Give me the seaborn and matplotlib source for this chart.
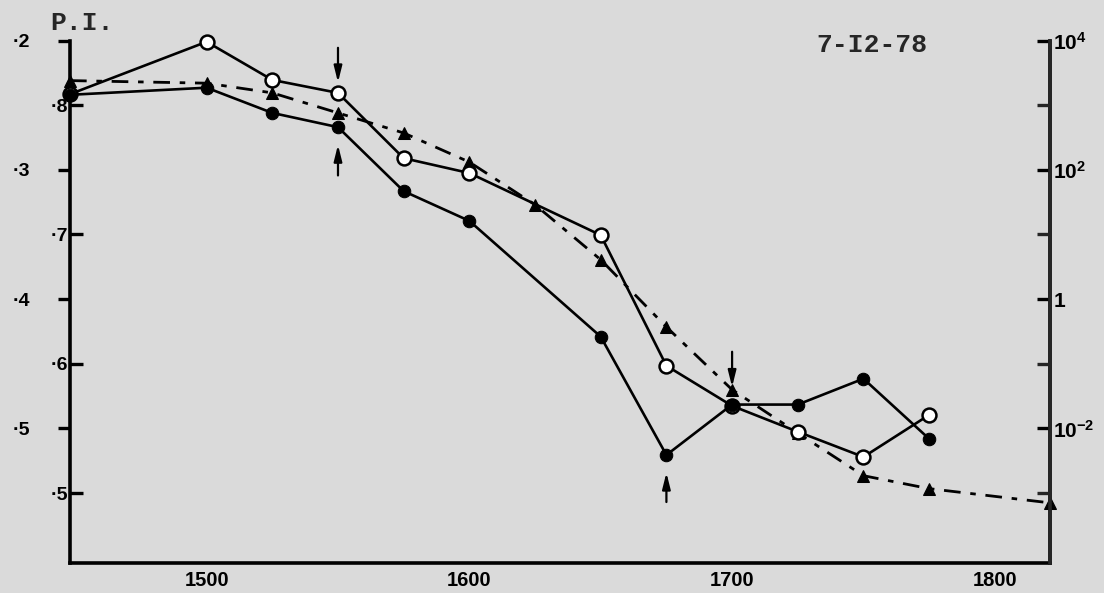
import matplotlib
matplotlib.use("Agg")
import matplotlib.pyplot as plt
import seaborn as sns
import pandas as pd

# ---- data (x = temperature-like scale, y = log10 units on the right axis) ----
open_x = [1448, 1500, 1525, 1550, 1575, 1600, 1650, 1675, 1700, 1725, 1750, 1775]
open_y = [3.17, 3.98, 3.39, 3.19, 2.18, 1.95, 0.99, -1.03, -1.65, -2.05, -2.44, -1.79]

filled_x = [1448, 1500, 1525, 1550, 1575, 1600, 1650, 1675, 1700, 1725, 1750, 1775]
filled_y = [3.16, 3.27, 2.88, 2.66, 1.67, 1.21, -0.58, -2.41, -1.63, -1.63, -1.23, -2.16]

tri_x = [1448, 1500, 1525, 1550, 1575, 1600, 1625, 1650, 1675, 1700, 1725, 1750, 1775, 1821]
tri_y = [3.38, 3.34, 3.19, 2.88, 2.57, 2.12, 1.46, 0.61, -0.43, -1.40, -2.07, -2.73, -2.93, -3.15]

x_ticks = [1500, 1600, 1700, 1800]
left_major = [4, 2, 0, -2]
left_major_labels = ["·2", "·3", "·4", "·5"]
left_minor = [3, 1, -1, -3]
left_minor_labels = ["·8", "·7", "·6", "·5"]
right_major = [4, 2, 0, -2]
right_major_labels = [r"$\mathbf{10^{4}}$", r"$\mathbf{10^{2}}$", r"$\mathbf{1}$", r"$\mathbf{10^{-2}}$"]
right_minor = [3, 1, -1, -3]

bg = "#dadada"
sns.set_theme(style="white")
plt.rcParams["font.family"] = ["Liberation Sans", "DejaVu Sans"]
plt.rcParams["mathtext.fontset"] = "custom"
plt.rcParams["mathtext.bf"] = "Liberation Sans:bold"
plt.rcParams["mathtext.rm"] = "Liberation Sans:bold"

fig = plt.figure(figsize=(11.04, 5.93), dpi=100, facecolor=bg)
ax = fig.add_axes([70 / 1104, 30 / 593, 980 / 1104, 522.5 / 593])
ax.set_facecolor(bg)

df_open = pd.DataFrame({"x": open_x, "y": open_y})
df_fill = pd.DataFrame({"x": filled_x, "y": filled_y})
df_tri = pd.DataFrame({"x": tri_x, "y": tri_y})

sns.lineplot(data=df_tri, x="x", y="y", ax=ax, color="black", lw=2.0,
             linestyle=(0, (6, 3.5, 2, 3.5)), marker="^", markersize=8,
             markerfacecolor="black", markeredgecolor="black", clip_on=False,
             zorder=3, sort=False)
sns.lineplot(data=df_open, x="x", y="y", ax=ax, color="black", lw=1.9,
             marker="o", markersize=10, markerfacecolor="white",
             markeredgecolor="black", markeredgewidth=1.8, clip_on=False,
             zorder=4, sort=False)
sns.lineplot(data=df_fill, x="x", y="y", ax=ax, color="black", lw=1.9,
             marker="o", markersize=9, markerfacecolor="black",
             markeredgecolor="black", clip_on=False, zorder=5, sort=False)

# arrows marking points
arrow_kw = dict(arrowstyle="-|>,head_length=0.8,head_width=0.2", color="black", lw=1.6)
ax.annotate("", xy=(open_x[3], open_y[3] + 0.12), xytext=(open_x[3], open_y[3] + 0.74),
            arrowprops=arrow_kw, annotation_clip=False)
ax.annotate("", xy=(filled_x[3], filled_y[3] - 0.23), xytext=(filled_x[3], filled_y[3] - 0.79),
            arrowprops=arrow_kw, annotation_clip=False)
ax.annotate("", xy=(filled_x[7], filled_y[7] - 0.23), xytext=(filled_x[7], filled_y[7] - 0.77),
            arrowprops=arrow_kw, annotation_clip=False)
ax.annotate("", xy=(filled_x[8], filled_y[8] + 0.23), xytext=(filled_x[8], filled_y[8] + 0.86),
            arrowprops=arrow_kw, annotation_clip=False)

ax.set_xlim(1448, 1821)
ax.set_ylim(-4.08, 4.0)
ax.set_xlabel("")
ax.set_ylabel("")

for s in ["left", "right", "bottom"]:
    ax.spines[s].set_linewidth(2.6)
    ax.spines[s].set_color("black")
ax.spines["top"].set_visible(False)

# x axis
ax.set_xticks(x_ticks)
ax.set_xticklabels([str(t) for t in x_ticks])
ax.tick_params(axis="x", direction="in", length=10, width=1.8, pad=6,
               labelsize=14.5, colors="black")
for lab in ax.get_xticklabels():
    lab.set_fontweight("bold")

# left axis: outer major labels and inner minor labels
ax.set_yticks(left_major)
ax.set_yticklabels(left_major_labels)
ax.set_yticks(left_minor, minor=True)
ax.set_yticklabels(left_minor_labels, minor=True)
ax.tick_params(axis="y", which="major", direction="out", length=9, width=2.4,
               pad=20, labelsize=14, colors="black", right=False)
ax.tick_params(axis="y", which="minor", direction="in", length=9.5, width=2.4,
               pad=1, labelsize=14, colors="black", right=False, left=True)
for lab in ax.get_yticklabels() + ax.get_yticklabels(minor=True):
    lab.set_fontweight("bold")

# right axis
ax2 = ax.twinx()
ax2.set_ylim(ax.get_ylim())
ax2.spines["top"].set_visible(False)
ax2.spines["left"].set_visible(False)
ax2.spines["bottom"].set_visible(False)
ax2.spines["right"].set_linewidth(2.6)
ax2.set_yticks(right_major)
ax2.set_yticklabels(right_major_labels)
ax2.set_yticks(right_minor, minor=True)
ax2.tick_params(axis="y", which="major", direction="in", length=9.5, width=2.4,
                pad=2, labelsize=15, colors="black")
ax2.tick_params(axis="y", which="minor", direction="in", length=9.5, width=2.4,
                labelright=False)
ax2.grid(False)
ax.grid(False)

fig.text(50 / 1104, 1 - 30 / 593, "P.I.", fontsize=19, fontweight="bold",
         family=["Liberation Mono", "DejaVu Sans Mono"], ha="left", va="baseline")
fig.text(816 / 1104, 1 - 45 / 593, "7-I2-78", fontsize=19, fontweight="bold",
         family=["Liberation Mono", "DejaVu Sans Mono"], ha="left", va="center")

fig.savefig("out.png", dpi=100, facecolor=bg)
